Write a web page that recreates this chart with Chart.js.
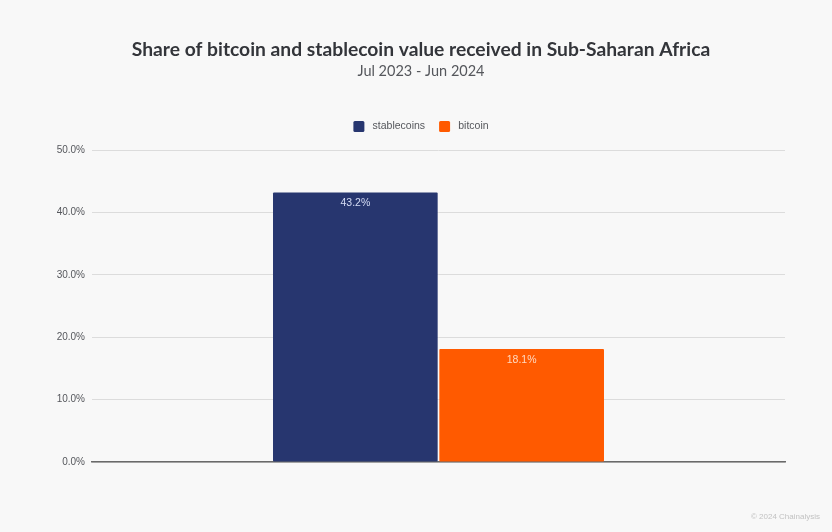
<!DOCTYPE html>
<html>
<head>
<meta charset="utf-8">
<style>
	html, body { margin: 0; padding: 0; background: #f8f8f8; }
	canvas { display: block; }
</style>
<script src="https://cdn.jsdelivr.net/npm/chart.js@4/dist/chart.umd.min.js"></script>
</head>
<body>
<canvas id="share-chart" width="832" height="532"></canvas>
<script>
const categories = [''];
const stablecoins = [43.2];
const bitcoin = [18.1];
const seriesColors = ['#27366f', '#ff5a00'];
const titleText = 'Share of bitcoin and stablecoin value received in Sub-Saharan Africa';
const subtitleText = 'Jul 2023 - Jun 2024';
const creditText = '© 2024 Chainalysis';
const tickFont = '"Liberation Sans", Arial, sans-serif';

// value labels inside the bars and the credit line in the corner
const barLabels = {
	id: 'barLabels',
	afterDatasetsDraw: function (chart) {
		const ctx = chart.ctx;

		ctx.save();
		ctx.textAlign = 'center';
		ctx.textBaseline = 'middle';
		ctx.font = '10.5px ' + tickFont;

		chart.data.datasets.forEach(function (dataset, i) {
			chart.getDatasetMeta(i).data.forEach(function (bar, j) {
				ctx.fillStyle = i === 0 ? '#d5dcf5' : '#ffd9c0';
				ctx.fillText(dataset.data[j].toFixed(1) + '%', bar.x, bar.y + 11);
			});
		});

		ctx.textAlign = 'right';
		ctx.font = '8px ' + tickFont;
		ctx.fillStyle = '#c2c2c2';
		ctx.fillText(creditText, 820, 517);
		ctx.restore();
	},
};

// a little extra room between the legend and the plot
const legendGap = {
	id: 'legendGap',
	beforeInit: function (chart) {
		const fit = chart.legend.fit;

		chart.legend.fit = function () {
			fit.call(chart.legend);
			this.height += 8;
		};
	},
};

new Chart(document.getElementById('share-chart'), {
	type: 'bar',
	plugins: [barLabels, legendGap],
	data: {
		labels: categories,
		datasets: [
			{ label: 'stablecoins', data: stablecoins, backgroundColor: seriesColors[0], borderRadius: 1, borderSkipped: false },
			{ label: 'bitcoin', data: bitcoin, backgroundColor: seriesColors[1], borderRadius: 1, borderSkipped: false },
		],
	},
	options: {
		responsive: false,
		animation: false,
		categoryPercentage: 0.48,
		barPercentage: 0.99,
		layout: {
			padding: { left: 57, right: 47, top: 0, bottom: 70 },
		},
		plugins: {
			title: {
				display: true,
				text: titleText,
				color: '#33353a',
				font: { family: 'Lato, "Noto Sans", sans-serif', size: 19.25, weight: '700' },
				padding: { top: 38, bottom: 1.2 },
			},
			subtitle: {
				display: true,
				text: subtitleText,
				color: '#55575c',
				font: { family: 'Lato, "Noto Sans", sans-serif', size: 14.5 },
				padding: { top: 0, bottom: 27.3 },
			},
			legend: {
				position: 'top',
				labels: {
					boxWidth: 11,
					boxHeight: 11,
					padding: 14,
					color: '#55575c',
					font: { family: tickFont, size: 10.5 },
					useBorderRadius: true,
					borderRadius: 1.5,
					generateLabels: function (chart) {
						return Chart.defaults.plugins.legend.labels.generateLabels(chart).map(function (item) {
							item.text = ' ' + item.text;
							return item;
						});
					},
				},
			},
			tooltip: { enabled: false },
		},
		scales: {
			x: {
				ticks: { display: false },
				grid: { display: false, drawTicks: false },
				border: { color: '#6a6a6a', width: 1.5 },
			},
			y: {
				min: 0,
				max: 50,
				afterFit: function (scale) {
					scale.width = 35;
				},
				ticks: {
					stepSize: 10,
					padding: 7,
					color: '#55575c',
					font: { family: tickFont, size: 10 },
					callback: function (value) {
						return value.toFixed(1) + '%';
					},
				},
				grid: { color: '#dcdcdc', drawTicks: false },
				border: { display: false },
			},
		},
	},
});
</script>
</body>
</html>
